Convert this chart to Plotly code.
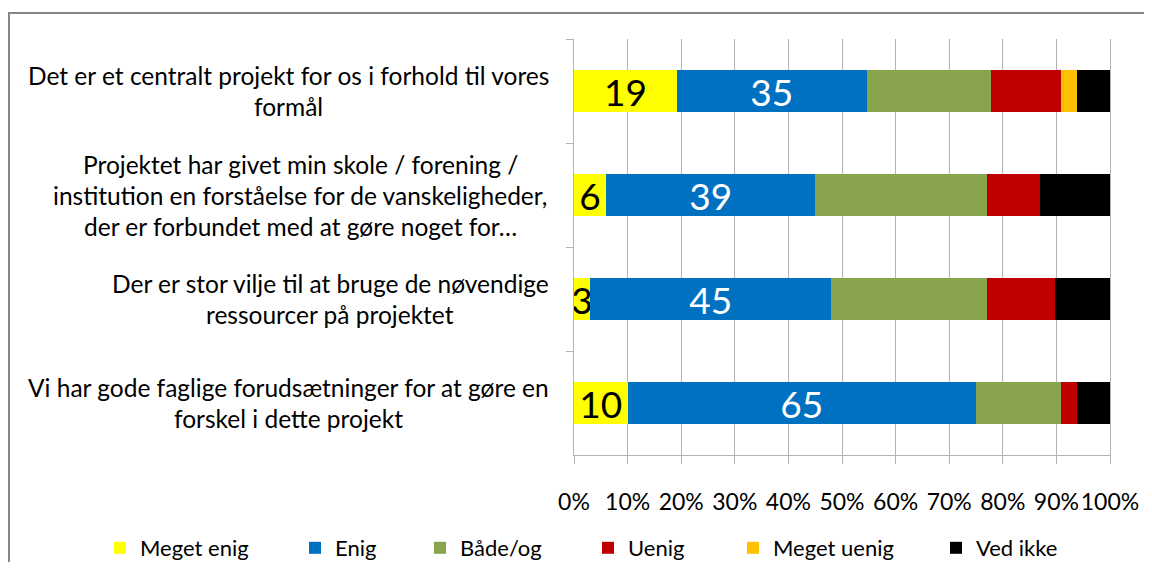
import plotly.graph_objs as go

PAGE_OFF = 8  # default body margin of the html page
WIDTH = 1152 - 2 * PAGE_OFF
HEIGHT = 570 - 2 * PAGE_OFF

# survey statements (top to bottom), one list of lines each
statements = [
    ["Det er et centralt projekt for os i forhold til vores", "formål"],
    ["Projektet har givet min skole / forening /",
     "institution en forståelse for de vanskeligheder,",
     "der er forbundet med at gøre noget for…"],
    ["Der er stor vilje til at bruge de nøvendige", "ressourcer på projektet"],
    ["Vi har gode faglige forudsætninger for at gøre en", "forskel i dette projekt"],
]
categories = [" ".join(s) for s in statements]

# percentages per answer
meget_enig = [19.2, 6.0, 3.0, 10.0]
enig = [35.4, 39.0, 45.0, 65.0]
baade_og = [23.2, 32.0, 29.0, 15.8]
uenig = [13.0, 10.0, 12.8, 3.1]
meget_uenig = [3.1, 0.0, 0.0, 0.0]
ved_ikke = [6.1, 13.0, 10.2, 6.1]

series_names = ["Meget enig", "Enig", "Både/og", "Uenig", "Meget uenig", "Ved ikke"]
series_values = [meget_enig, enig, baade_og, uenig, meget_uenig, ved_ikke]

COLORS = ["#FFFF00", "#0070C0", "#88A44C", "#C00000", "#FFC000", "#000000"]
LABEL_COLORS = ["black", "white", None, None, None, None]
FONT = "Lato"
GRID = "#b3b3b3"

# plot area in screen pixels
L, R, T, B = 574, 1110, 39, 455


def px_x(px):
    return (px - L) / (R - L)


def px_y(py):
    return (B - py) / (B - T)


fig = go.Figure()

legend_text_px = [140, 335, 460, 628, 773, 976]
for i, (name, vals) in enumerate(zip(series_names, series_values)):
    lg = "legend" if i == 0 else f"legend{i + 1}"
    bar = go.Bar(name=name, y=categories, x=vals, orientation="h",
                 marker=dict(color=COLORS[i], line=dict(width=0)),
                 legend=lg, showlegend=True,
                 hovertemplate="%{x:.0f}%<extra>" + name + "</extra>")
    if LABEL_COLORS[i]:
        bar.update(texttemplate="%{x:.0f}", textposition="inside", textangle=0,
                   insidetextanchor="middle", constraintext="none",
                   textfont=dict(family=FONT, size=37, color=LABEL_COLORS[i]))
    else:
        bar.update(textposition="none")
    fig.add_trace(bar)

legends = {}
for i, tx in enumerate(legend_text_px):
    lg = "legend" if i == 0 else f"legend{i + 1}"
    legends[lg] = dict(x=px_x(tx - 40), y=px_y(548), xanchor="left", yanchor="middle",
                       orientation="h", bgcolor="rgba(0,0,0,0)",
                       font=dict(family=FONT, size=22, color="black"))

# statement labels, centred lines
label_centres = [288, 300, 330, 288]
LINE_H = 31
for cat, lines, cx in zip(categories, statements, label_centres):
    n = len(lines)
    for j, line in enumerate(lines):
        fig.add_annotation(x=px_x(cx), xref="paper", y=cat, yref="y",
                           text=line, showarrow=False, xanchor="center", yanchor="middle",
                           yshift=((n - 1) / 2 - j) * LINE_H,
                           font=dict(family=FONT, size=24.5, color="black"))

# outer frame: only the top and left edges are inside the picture
fx0, fx1, fy0, fy1 = px_x(9), px_x(1160), px_y(580), px_y(13)
fig.add_shape(type="path", xref="paper", yref="paper",
              path=f"M {fx1},{fy1} L {fx0},{fy1} L {fx0},{fy0}",
              line=dict(color="#868686", width=2), layer="below")

fig.update_layout(
    barmode="stack",
    bargap=0.6,
    showlegend=True,
    width=WIDTH, height=HEIGHT,
    margin=dict(l=L - PAGE_OFF, r=WIDTH + PAGE_OFF - R, t=T - PAGE_OFF,
                b=HEIGHT + PAGE_OFF - B, autoexpand=False),
    paper_bgcolor="white", plot_bgcolor="white",
    font=dict(family=FONT, color="black"),
    **legends,
)
fig.update_xaxes(range=[0, 100], dtick=10, ticksuffix="%", showgrid=True,
                 gridcolor=GRID, gridwidth=1, zeroline=False,
                 showline=True, linecolor=GRID, ticks="outside", ticklen=8,
                 tickcolor=GRID, tickangle=0, tickfont=dict(family=FONT, size=23),
                 ticklabelstandoff=18)
fig.update_yaxes(autorange="reversed", showticklabels=False, showgrid=False,
                 ticks="outside", tickson="boundaries", ticklen=7, tickcolor=GRID,
                 showline=True, linecolor=GRID, mirror=True)

# no scrollbars on the page, no modebar
fig.write_html("out.html", config={"displayModeBar": False},
               post_script="document.documentElement.style.overflow = 'hidden';"
                           "document.body.style.overflow = 'hidden';")
